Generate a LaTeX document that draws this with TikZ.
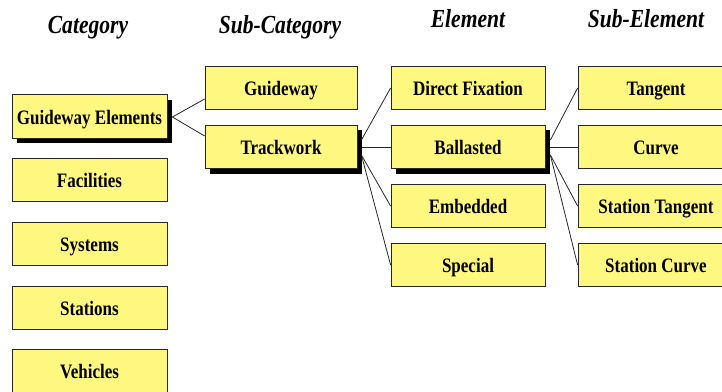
\documentclass[tikz,border=0pt]{standalone}
\usepackage{fontspec}
\setmainfont{Liberation Serif}
\newfontfamily\narrowserif[FakeStretch=0.83]{Liberation Serif}
\usetikzlibrary{shadows,calc}

\tikzset{
  box/.style={draw=black!85, line width=0.8pt, fill=yellow!50,
    minimum height=43.5pt, inner sep=0pt, text height=15.6pt, text depth=0pt,
    font=\narrowserif\bfseries\fontsize{20.5}{20.5}\selectfont},
  catbox/.style={box, minimum width=155pt},
  subbox/.style={box, minimum width=152pt},
  elbox/.style={box, minimum width=154pt},
  subelbox/.style={box, minimum width=156pt},
  chosen/.style={drop shadow={shadow xshift=5pt, shadow yshift=-5pt, fill=black, opacity=1}},
  head/.style={anchor=base, inner sep=0pt,
    font=\narrowserif\bfseries\itshape\fontsize{26}{26}\selectfont},
  link/.style={draw=black!85, line width=0.8pt}
}

\begin{document}
\begin{tikzpicture}[x=1pt,y=-1pt]
  \useasboundingbox (0,0) rectangle (722,391);
  \clip (0,0) rectangle (722,391);

  % column headings
  \node[head] (hcat)  at (88,33)  {Category};
  \node[head] (hsub)  at (280,33) {Sub-Category};
  \node[head] (hel)   at (468,27) {Element};
  \node[head] (hsel)  at (646,27) {Sub-Element};

  % categories
  \node[catbox, chosen] (ge)  at (89.5,116.5) {Guideway Elements};
  \node[catbox] (fac) at (89.5,180) {Facilities};
  \node[catbox] (sys) at (89.5,244) {Systems};
  \node[catbox] (sta) at (89.5,308) {Stations};
  \node[catbox] (veh) at (89.5,371) {Vehicles};

  % sub-categories
  \node[subbox] (gw) at (281,88) {Guideway};
  \node[subbox, chosen] (tw) at (281,147) {Trackwork};

  % elements
  \node[elbox] (df)  at (468,88)  {Direct Fixation};
  \node[elbox, chosen] (bal) at (468,147) {Ballasted};
  \node[elbox] (emb) at (468,206) {Embedded};
  \node[elbox] (spc) at (468,265) {Special};

  % sub-elements
  \node[subelbox] (tan)  at (656,88)  {Tangent};
  \node[subelbox] (cur)  at (656,147) {Curve};
  \node[subelbox] (stan) at (656,206) {Station Tangent};
  \node[subelbox] (scur) at (656,265) {Station Curve};

  % connectors
  \draw[link] ($(ge.east)+(5,0.5)$) -- ($(gw.west)+(0,11)$);
  \draw[link] ($(ge.east)+(5,0.5)$) -- ($(tw.west)+(0,-11)$);

  \draw[link] ($(tw.east)+(4,-7)$) -- (df.west);
  \draw[link] ($(tw.east)+(5,0)$)  -- (bal.west);
  \draw[link] ($(tw.east)+(4,8)$)  -- (emb.west);
  \draw[link] ($(tw.east)+(4,8)$)  -- (spc.west);

  \draw[link] ($(bal.east)+(5,-7)$) -- (tan.west);
  \draw[link] ($(bal.east)+(5,0)$)  -- (cur.west);
  \draw[link] ($(bal.east)+(5,8)$)  -- (stan.west);
  \draw[link] ($(bal.east)+(5,8)$)  -- (scur.west);
\end{tikzpicture}
\end{document}
